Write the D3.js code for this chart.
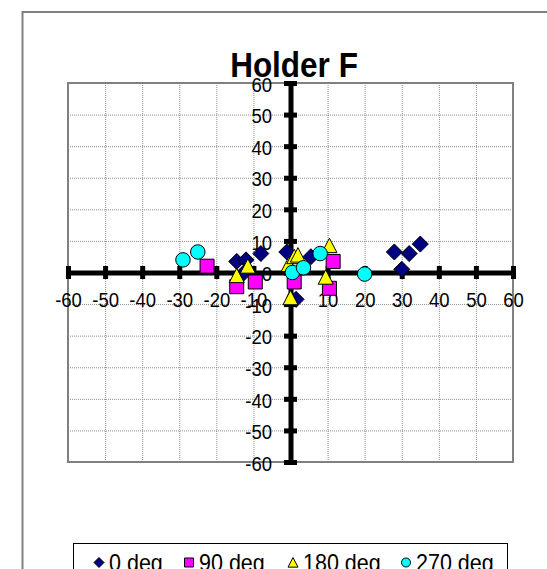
<!DOCTYPE html>
<html lang="en">
<head>
<meta charset="UTF-8">
<title>Holder F</title>
<script src="https://d3js.org/d3.v7.min.js"></script>
<style>
  body { margin: 0; background: #fff; font-family: "Liberation Sans", Arial, sans-serif; }
  svg { display: block; }
  .grid line { stroke: #8c8c8c; stroke-width: 1; stroke-dasharray: 1,1; }
  .grid path { display: none; }
  .axis path { stroke: #000; stroke-width: 5; }
  .axis line { stroke: #000; stroke-width: 5; }
  .axis text { font-family: "Liberation Sans", Arial, sans-serif; font-size: 18.5px; fill: #000; }
</style>
</head>
<body>
<div id="chart"></div>
<script>
// tick values for both axes
const tickValues = [-60, -50, -40, -30, -20, -10, 0, 10, 20, 30, 40, 50, 60];

// series names and colours
const seriesNames = ["0 deg", "90 deg", "180 deg", "270 deg"];
const seriesColors = ["#000080", "#ff00ff", "#ffff00", "#00ffff"];
const seriesShapes = ["diamond", "square", "triangle", "circle"];

// [x, y] points
const deg0 = [[-14.5, 3.5], [-12, 4], [-8, 6], [-12.5, 0], [-1, 6.5], [5.5, 5],
              [28, 6.5], [32, 6], [35, 9], [30, 1], [1.5, -8.5]];
const deg90 = [[-22.5, 2], [-14.5, -4.5], [-9.5, -3], [1, -3], [11.5, 3.5], [10.5, -5]];
const deg180 = [[-14.5, -1], [-11.5, 2], [-0.5, 2.5], [1, 5], [2, 5.5], [10.5, 8.5],
                [9.5, -1.5], [0, -8]];
const deg270 = [[-29, 4], [-25, 6.5], [0.5, 0], [3.5, 1.5], [8, 6], [20, -0.5]];

const seriesData = [deg0, deg90, deg180, deg270];

const W = 547, H = 569;
const plot = { left: 68, right: 513, top: 83, bottom: 462 };

const svg = d3.select("#chart").append("svg")
  .attr("width", W).attr("height", H);

// outer chart frame
svg.append("rect")
  .attr("x", 22.5).attr("y", 12)
  .attr("width", 560).attr("height", 600)
  .attr("fill", "#fff").attr("stroke", "#808080").attr("stroke-width", 2);

const x = d3.scaleLinear().domain([-60, 60]).range([plot.left, plot.right]);
const y = d3.scaleLinear().domain([-60, 60]).range([plot.bottom, plot.top]);

// plain hyphen for negatives, like the original
const fmt = d => String(d);

// gridlines
svg.append("g").attr("class", "grid")
  .attr("transform", `translate(0,${plot.bottom})`)
  .call(d3.axisBottom(x).tickValues(tickValues).tickSize(-(plot.bottom - plot.top)).tickFormat(""));
svg.append("g").attr("class", "grid")
  .attr("transform", `translate(${plot.left},0)`)
  .call(d3.axisLeft(y).tickValues(tickValues).tickSize(-(plot.right - plot.left)).tickFormat(""));

// plot border
svg.append("rect")
  .attr("x", plot.left).attr("y", plot.top)
  .attr("width", plot.right - plot.left).attr("height", plot.bottom - plot.top)
  .attr("fill", "none").attr("stroke", "#808080").attr("stroke-width", 2);

// title
svg.append("text")
  .attr("transform", "translate(294,77) scale(1,1.1)")
  .attr("text-anchor", "middle")
  .style("font-family", "'Liberation Sans', Arial, sans-serif")
  .style("font-size", "31.5px").style("font-weight", "bold")
  .text("Holder F");

// x axis through y = 0
const gx = svg.append("g").attr("class", "axis")
  .attr("transform", `translate(0,${y(0)})`)
  .call(d3.axisBottom(x).tickValues(tickValues).tickFormat(fmt).tickSizeOuter(0));
gx.selectAll(".tick line").attr("y1", -6.5).attr("y2", 6.5);
gx.selectAll(".tick text")
  .attr("y", null).attr("dy", "0.36em")
  .attr("transform", "translate(0,27) scale(1,1.08)");

// y axis through x = 0
const gy = svg.append("g").attr("class", "axis")
  .attr("transform", `translate(${x(0)},0)`)
  .call(d3.axisLeft(y).tickValues(tickValues).tickFormat(fmt).tickSizeOuter(0));
gy.selectAll(".tick line").attr("x1", -6.5).attr("x2", 6.5);
gy.selectAll(".tick text")
  .attr("x", null).attr("dy", "0.36em")
  .attr("transform", "translate(-18.5,1) scale(1,1.08)");
gy.selectAll(".tick text").attr("text-anchor", "end");

// marker shapes
function shapePath(shape, s) {
  const h = s / 2;
  if (shape === "diamond") return `M0,${-h}L${h},0L0,${h}L${-h},0Z`;
  if (shape === "square") return `M${-h},${-h}H${h}V${h}H${-h}Z`;
  if (shape === "triangle") return `M0,${-h}L${h},${h * 0.93}L${-h},${h * 0.93}Z`;
  return d3.arc()({ innerRadius: 0, outerRadius: h, startAngle: 0, endAngle: 2 * Math.PI });
}
const markerSize = [16, 14, 15, 14.5];

seriesData.forEach((pts, i) => {
  svg.append("g").selectAll("path")
    .data(pts)
    .join("path")
    .attr("transform", d => `translate(${x(d[0])},${y(d[1])})`)
    .attr("d", shapePath(seriesShapes[i], markerSize[i]))
    .attr("fill", seriesColors[i])
    .attr("stroke", "#000").attr("stroke-width", 1);
});

// legend
svg.append("rect")
  .attr("x", 73.5).attr("y", 543.5)
  .attr("width", 434).attr("height", 60)
  .attr("fill", "#fff").attr("stroke", "#000").attr("stroke-width", 1);

const legendX = [99, 189, 293, 406];
const legendSize = [10, 9, 10, 9];
seriesNames.forEach((name, i) => {
  const g = svg.append("g").attr("transform", `translate(${legendX[i]},562.5)`);
  g.append("path")
    .attr("d", shapePath(seriesShapes[i], legendSize[i]))
    .attr("fill", seriesColors[i])
    .attr("stroke", "#000").attr("stroke-width", 1);
  g.append("text")
    .attr("transform", "translate(10,0) scale(1,1.1)")
    .attr("dy", "0.36em")
    .style("font-family", "'Liberation Sans', Arial, sans-serif")
    .style("font-size", "21.5px")
    .text(name);
});
</script>
</body>
</html>
